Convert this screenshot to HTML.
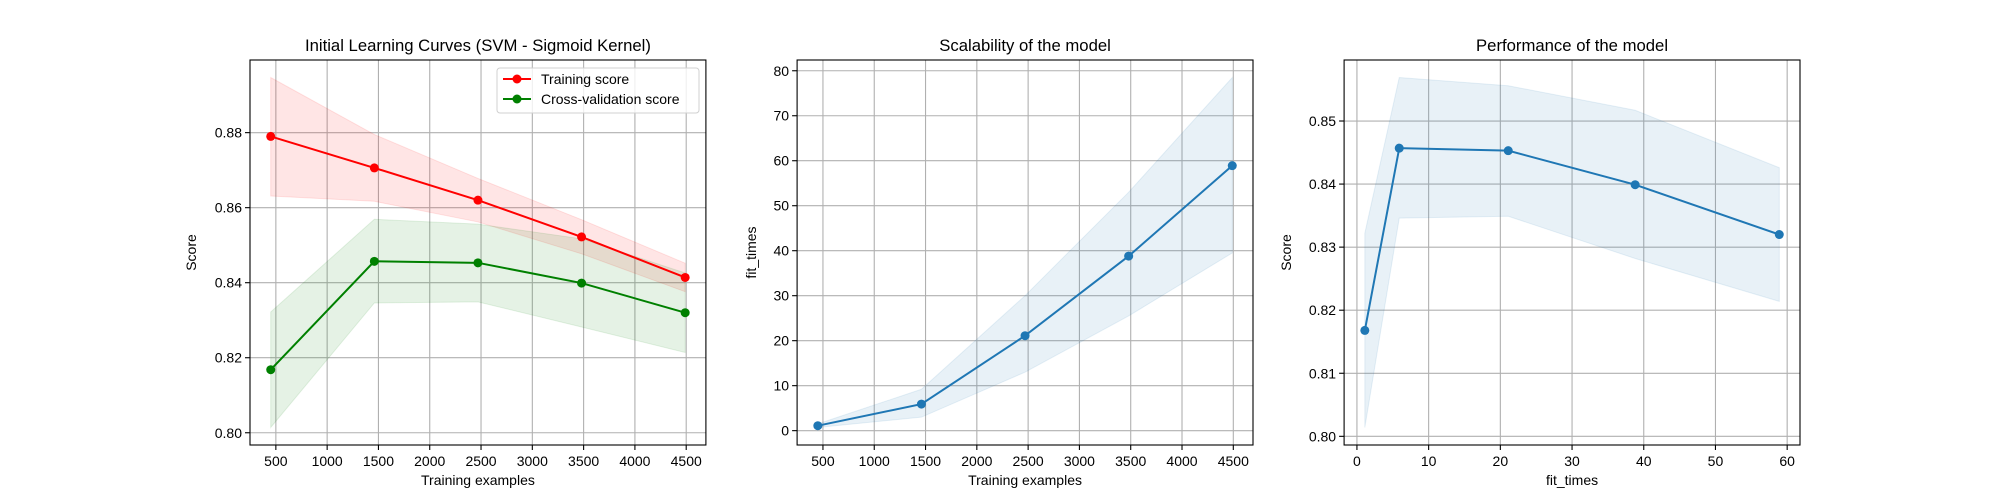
<!DOCTYPE html>
<html><head><meta charset="utf-8"><style>
body{margin:0;background:#fff}
svg{display:block;font-family:"Liberation Sans","DejaVu Sans",sans-serif}
</style></head><body>
<svg id="c" width="2000" height="500" viewBox="0 0 2000 500"></svg>
<script>
const trainSizes=[450,1460,2470,3480,4490];
const trainMean=[0.879,0.8706,0.862,0.8522,0.8414];
const trainUpper=[0.8947,0.8795,0.8678,0.8568,0.8452];
const trainLower=[0.8631,0.8617,0.8562,0.8477,0.8376];
const cvMean=[0.8168,0.8457,0.8453,0.8399,0.8320];
const cvUpper=[0.8322,0.8569,0.8556,0.8517,0.8426];
const cvLower=[0.8014,0.8346,0.8349,0.8282,0.8214];
const fitMean=[1.1,5.9,21.1,38.8,58.9];
const fitUpper=[1.5,9.2,30,53,78.5];
const fitLower=[0.7,3,13,25.5,39.5];
const sizeTicks=[500,1000,1500,2000,2500,3000,3500,4000,4500];
const scoreTicks1=[0.80,0.82,0.84,0.86,0.88];
const fitTicks=[0,10,20,30,40,50,60,70,80];
const timeTicks=[0,10,20,30,40,50,60];
const scoreTicks3=[0.80,0.81,0.82,0.83,0.84,0.85];

const svg=document.getElementById('c');
const NS='http://www.w3.org/2000/svg';
function mk(tag,attrs,parent){const e=document.createElementNS(NS,tag);for(const k in attrs)e.setAttribute(k,attrs[k]);(parent||svg).appendChild(e);return e;}
function txt(s,attrs,parent){const e=mk('text',attrs,parent);e.textContent=s;return e;}
function ext(a,b){const lo=Math.min(...a),hi=Math.max(...b),m=(hi-lo)*0.05;return [lo-m,hi+m];}

function panel(name,box,xr,yr,xt,yt,xfmt,yfmt,title,xlabel,ylabel){
  const g=mk('g',{});
  
  
  const sx=v=>box.x0+(v-xr[0])/(xr[1]-xr[0])*(box.x1-box.x0);
  const sy=v=>box.y1-(v-yr[0])/(yr[1]-yr[0])*(box.y1-box.y0);
  xt.forEach(t=>{const X=sx(t);
    const l=mk('line',{x1:X,x2:X,y1:box.y0,y2:box.y1,stroke:'#b0b0b0','stroke-width':1.1},g);
    
    mk('line',{x1:X,x2:X,y1:box.y1,y2:box.y1+5,stroke:'#000','stroke-width':1.1},g);
    const tl=txt(xfmt(t),{x:X,y:box.y1+21,'text-anchor':'middle','font-size':14,fill:'#000'},g);
    });
  yt.forEach(t=>{const Y=sy(t);
    const l=mk('line',{x1:box.x0,x2:box.x1,y1:Y,y2:Y,stroke:'#b0b0b0','stroke-width':1.1},g);
    
    mk('line',{x1:box.x0-5,x2:box.x0,y1:Y,y2:Y,stroke:'#000','stroke-width':1.1},g);
    const tl=txt(yfmt(t),{x:box.x0-8,y:Y+5,'text-anchor':'end','font-size':14,fill:'#000'},g);
    });
  const fr=mk('rect',{x:box.x0,y:box.y0,width:box.x1-box.x0,height:box.y1-box.y0,fill:'none',stroke:'#000','stroke-width':1.1},g);
  
  const t=txt(title,{x:(box.x0+box.x1)/2,y:box.y0-9,'text-anchor':'middle','font-size':16.7,fill:'#000'},g);
  
  const xl=txt(xlabel,{x:(box.x0+box.x1)/2,y:box.y1+40,'text-anchor':'middle','font-size':14,fill:'#000'},g);
  
  const yx=box.x0-box.ylOff;
  const yl=txt(ylabel,{x:yx,y:(box.y0+box.y1)/2,'text-anchor':'middle','font-size':14,fill:'#000',transform:`rotate(-90 ${yx} ${(box.y0+box.y1)/2})`},g);
  
  return {g,sx,sy};
}
function band(p,xs,lo,hi,color,op,name){
  let d='M'+xs.map((x,i)=>p.sx(x)+','+p.sy(hi[i])).join('L');
  d+='L'+xs.map((x,i)=>[x,i]).reverse().map(([x,i])=>p.sx(x)+','+p.sy(lo[i])).join('L')+'Z';
  const e=mk('path',{d,fill:color,'fill-opacity':op,stroke:color,'stroke-opacity':op},p.g);
  
}
function series(p,xs,ys,color,name){
  const e=mk('polyline',{points:xs.map((x,i)=>p.sx(x)+','+p.sy(ys[i])).join(' '),fill:'none',stroke:color,'stroke-width':2},p.g);
  
  xs.forEach((x,i)=>{const c=mk('circle',{cx:p.sx(x),cy:p.sy(ys[i]),r:4.5,fill:color},p.g);
    });
}
const f2=v=>v.toFixed(2), f0=v=>String(v);
const xSize=ext(trainSizes,trainSizes);

const p1=panel('learning-curve-panel',{x0:250,x1:705.9,y0:60,y1:445,ylOff:54},xSize,ext(cvLower,trainUpper),sizeTicks,scoreTicks1,f0,f2,'Initial Learning Curves (SVM - Sigmoid Kernel)','Training examples','Score');
band(p1,trainSizes,trainLower,trainUpper,'#ff0000',0.1,'training-score-band');
band(p1,trainSizes,cvLower,cvUpper,'#008000',0.1,'cv-score-band');
series(p1,trainSizes,trainMean,'#ff0000','training-score');
series(p1,trainSizes,cvMean,'#008000','cv-score');
const lg=mk('g',{},p1.g);

mk('rect',{x:497,y:68,width:202,height:45,rx:3,fill:'#fff','fill-opacity':0.8,stroke:'#d0d0d0'},lg);
[['Training score','#ff0000',79],['Cross-validation score','#008000',99]].forEach(([s,c,y])=>{
  const e=mk('g',{},lg);
  
  mk('line',{x1:503,x2:531,y1:y,y2:y,stroke:c,'stroke-width':2},e);
  mk('circle',{cx:517,cy:y,r:4.5,fill:c},e);
  txt(s,{x:541,y:y+5,'font-size':14,fill:'#000'},e);
});

const p2=panel('scalability-panel',{x0:797.1,x1:1253,y0:60,y1:445,ylOff:41},xSize,ext(fitLower,fitUpper),sizeTicks,fitTicks,f0,f0,'Scalability of the model','Training examples','fit_times');
band(p2,trainSizes,fitLower,fitUpper,'#1f77b4',0.1,'fit-times-band');
series(p2,trainSizes,fitMean,'#1f77b4','fit-times');

const p3=panel('performance-panel',{x0:1344.1,x1:1800,y0:60,y1:445,ylOff:53},ext(fitMean,fitMean),ext(cvLower,cvUpper),timeTicks,scoreTicks3,f0,f2,'Performance of the model','fit_times','Score');
band(p3,fitMean,cvLower,cvUpper,'#1f77b4',0.1,'performance-band');
series(p3,fitMean,cvMean,'#1f77b4','performance');
</script>
</body></html>
